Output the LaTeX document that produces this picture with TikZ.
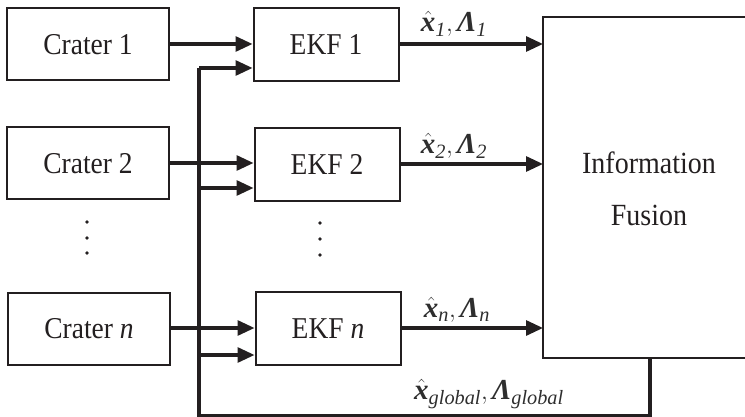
\documentclass[tikz,border=0pt]{standalone}
\usepackage{amsmath}
\usepackage{fontspec}
\setmainfont{Liberation Serif}
\usetikzlibrary{arrows.meta}
\definecolor{ink}{HTML}{231F20}
\definecolor{labelink}{HTML}{2E2E2E}
\newcommand{\bx}{\text{\bfseries\itshape x}}
\newcommand{\bL}{\text{\bfseries\itshape Λ}}
\newcommand{\sub}[1]{\text{\itshape #1}}
% slightly tall lettering
\newcommand{\tall}[1]{\scalebox{1}[1.1]{#1}}
\tikzset{
  blockbox/.style={draw=ink, line width=2pt, rectangle, inner sep=0pt,
    font=\fontsize{27.5}{30}\selectfont, text=ink},
  srcbox/.style={blockbox, minimum width=162pt, minimum height=72pt},
  ekfbox/.style={blockbox, minimum width=145pt, minimum height=73pt},
  flow/.style={draw=ink, line width=3.1pt,
    -{Triangle[length=17pt,width=15pt]}},
  bus/.style={draw=ink, line width=3.1pt},
  estlabel/.style={font=\fontsize{29}{31}\selectfont, text=labelink, inner sep=0pt},
  vdot/.style={fill=ink, draw=none, circle, minimum size=3.6pt, inner sep=0pt}
}
\begin{document}
\begin{tikzpicture}[x=1pt, y=-1pt]
  \useasboundingbox (0,0) rectangle (745,417);

  % crater measurement sources
  \node[srcbox] (c1) at (88,44.5) {\tall{Crater 1}};
  \node[srcbox] (c2) at (88,163.5) {\tall{Crater 2}};
  \node[srcbox] (cn) at (89,328.5) {\tall{Crater \textit{n}}};

  % per-crater filters
  \node[ekfbox] (e1) at (326,44.5) {\tall{EKF 1}};
  \node[ekfbox] (e2) at (327,164.5) {\tall{EKF 2}};
  \node[ekfbox] (en) at (328,328.5) {\tall{EKF \textit{n}}};

  % fusion block (open on the right)
  \draw[draw=ink, line width=2pt] (543,17) rectangle (760,358);
  \node[font=\fontsize{28}{49}\selectfont, text=ink, align=center, inner sep=0pt]
    (fusion) at (649,189) {\tall{Information}\\[3pt]\tall{Fusion}};
  \coordinate (fw1) at (543,44);
  \coordinate (fw2) at (543,164);
  \coordinate (fwn) at (543,328);
  \coordinate (tap) at (650,358);

  % vertical ellipses
  \node[vdot] (l1) at (87,222) {};
  \node[vdot] (l2) at (87,238) {};
  \node[vdot] (l3) at (87,253) {};
  \node[vdot] (r1) at (320,223) {};
  \node[vdot] (r2) at (320,239) {};
  \node[vdot] (r3) at (320,255) {};

  % measurements into filters
  \draw[flow] (c1.east |- 0,44) -- (e1.west |- 0,44);
  \draw[flow] (c2.east |- 0,163) -- (e2.west |- 0,163);
  \draw[flow] (cn.east |- 0,328) -- (en.west |- 0,328);

  % filter estimates into fusion
  \draw[flow] (e1.east |- fw1) -- (fw1);
  \draw[flow] (e2.east |- fw2) -- (fw2);
  \draw[flow] (en.east |- fwn) -- (fwn);

  % global estimate fed back to every filter
  \coordinate (bb) at (199,416);
  \coordinate (b1) at (199,68);
  \coordinate (b2) at (199,188);
  \coordinate (bn) at (199,355);
  \draw[bus] (tap) |- (bb) -- (b1);
  \draw[flow] (b1) -- (e1.west |- b1);
  \draw[flow] (b2) -- (e2.west |- b2);
  \draw[flow] (bn) -- (en.west |- bn);

  % estimate labels
  \node[estlabel] (t1) at (454,24) {$\hat{\bx}_{\sub{1}},\bL_{\sub{1}}$};
  \node[estlabel] (t2) at (454,146) {$\hat{\bx}_{\sub{2}},\bL_{\sub{2}}$};
  \node[estlabel] (tn) at (457,310) {$\hat{\bx}_{\sub{n}},\bL_{\sub{n}}$};
  \node[estlabel] (tg) at (489,394) {$\hat{\bx}_{\sub{global}},\bL_{\sub{global}}$};
\end{tikzpicture}
\end{document}
